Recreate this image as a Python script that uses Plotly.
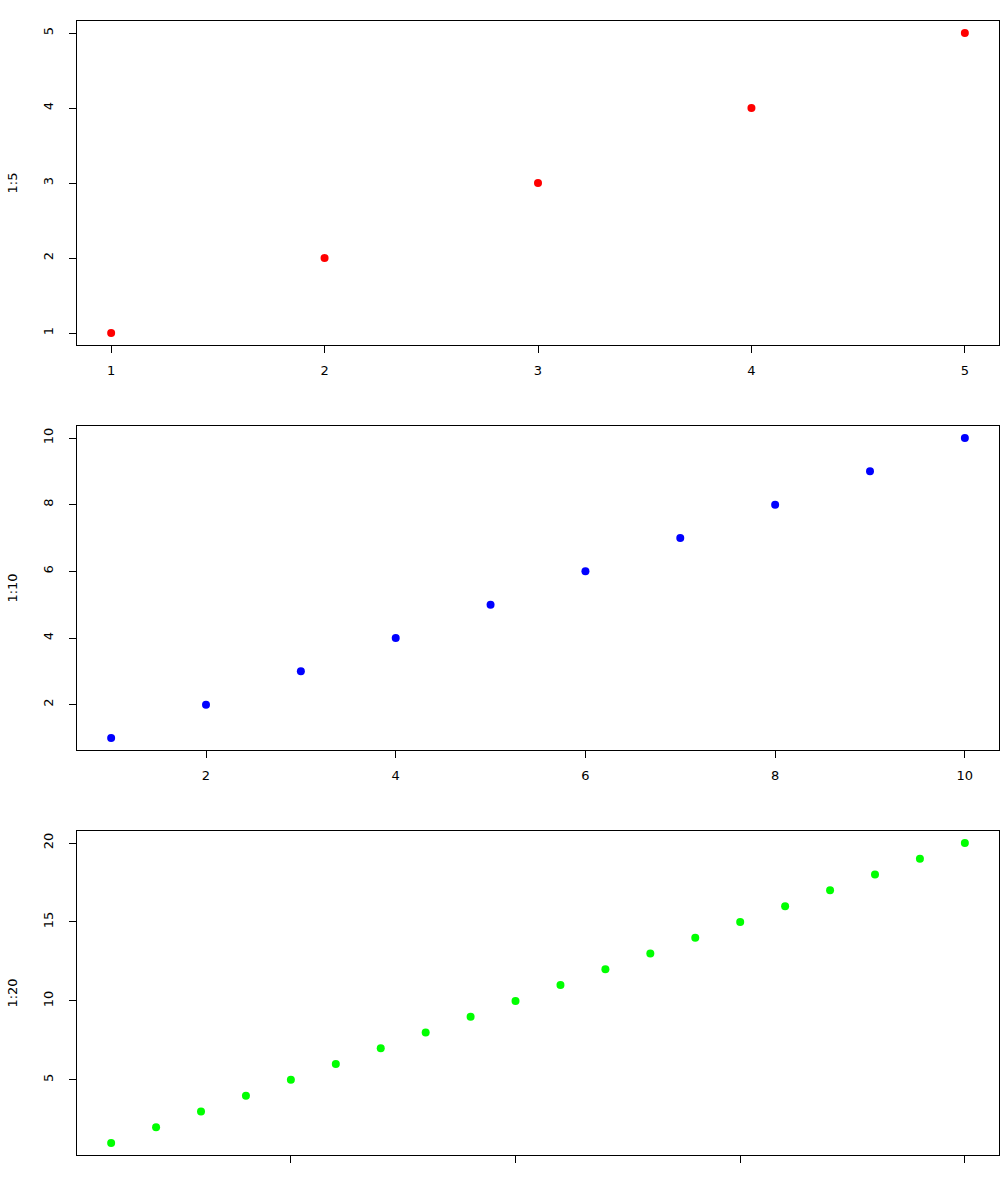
import plotly.graph_objects as go
from plotly.subplots import make_subplots

x1 = [1, 2, 3, 4, 5]
y1 = [1, 2, 3, 4, 5]
x2 = [1, 2, 3, 4, 5, 6, 7, 8, 9, 10]
y2 = [1, 2, 3, 4, 5, 6, 7, 8, 9, 10]
x3 = list(range(1, 21))
y3 = [1, 2, 3, 4, 5, 6, 7, 8, 9, 10, 11, 12, 13, 14, 15, 16, 17, 18, 19, 20]

titles = ["1:5", "1:10", "1:20"]
colors = ["#FF0000", "#0000FF", "#00FF00"]
xticks = [[1, 2, 3, 4, 5], [2, 4, 6, 8, 10], [5, 10, 15, 20]]
yticks = [[1, 2, 3, 4, 5], [2, 4, 6, 8, 10], [5, 10, 15, 20]]

FONT = dict(family="DejaVu Sans", size=13, color="black")

fig = make_subplots(rows=3, cols=1, vertical_spacing=81 / 1134)
data = [(x1, y1), (x2, y2), (x3, y3)]
for i, (xs, ys) in enumerate(data):
    fig.add_trace(go.Scatter(x=xs, y=ys, mode="markers",
                             marker=dict(color=colors[i], size=8),
                             showlegend=False), row=i + 1, col=1)
    lo, hi = min(xs), max(xs)
    pad = (hi - lo) * 0.04
    ylo, yhi = min(ys), max(ys)
    ypad = (yhi - ylo) * 0.04
    fig.update_xaxes(range=[lo - pad, hi + pad], tickvals=xticks[i],
                     showgrid=False, zeroline=False, showline=True, mirror=True,
                     linecolor="black", linewidth=1, ticks="outside", ticklen=7,
                     tickcolor="black", showticklabels=(i < 2), automargin=False,
                     ticklabelstandoff=6, tickfont=FONT,
                     row=i + 1, col=1)
    fig.update_yaxes(range=[ylo - ypad, yhi + ypad], tickvals=yticks[i],
                     showgrid=False, zeroline=False, showline=True, mirror=True,
                     linecolor="black", linewidth=1, ticks="outside", ticklen=7,
                     tickcolor="black", tickangle=-90, automargin=False,
                     ticklabelstandoff=11, tickfont=FONT,
                     title=dict(text=titles[i], standoff=20, font=FONT),
                     row=i + 1, col=1)

fig.update_layout(width=1008, height=1182, margin=dict(l=77, r=9, t=21, b=27),
                  plot_bgcolor="white", paper_bgcolor="white")
fig.write_html("out.html")
